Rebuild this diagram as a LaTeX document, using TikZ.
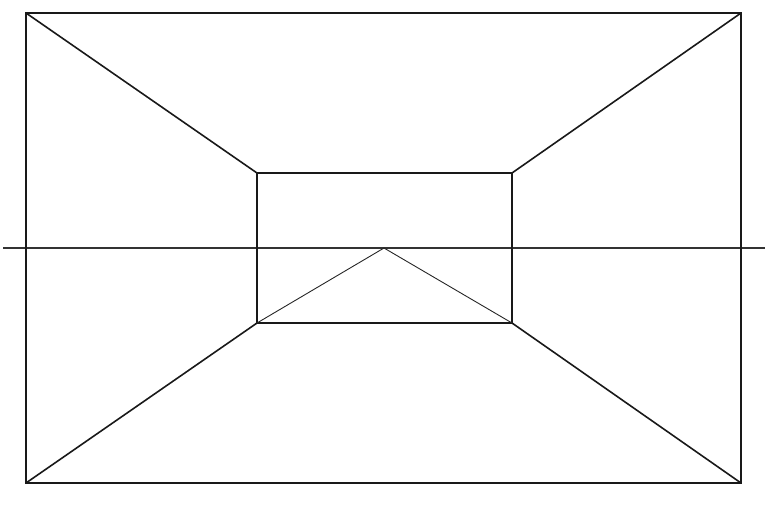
\documentclass[tikz,border=0pt]{standalone}
\begin{document}
\begin{tikzpicture}[x=1pt,y=-1pt,
  thick line/.style={line width=1.6pt, draw=black!90},
  mid line/.style={line width=1.2pt, draw=black!80},
  thin line/.style={line width=0.9pt, draw=black!85}]
\useasboundingbox (0,0) rectangle (768,512);
\coordinate (O1) at (26,13);
\coordinate (O2) at (741,13);
\coordinate (O3) at (741,483);
\coordinate (O4) at (26,483);
\coordinate (I1) at (257,173);
\coordinate (I2) at (512,173);
\coordinate (I3) at (512,323);
\coordinate (I4) at (257,323);
\coordinate (VP) at (384,248);
\coordinate (HL) at (3,248);
\coordinate (HR) at (765,248);
\draw[mid line] (HL) -- (HR);
\draw[thick line] (O1) -- (O2) -- (O3) -- (O4) -- cycle;
\draw[thick line] (I1) -- (I2) -- (I3) -- (I4) -- cycle;
\draw[thick line] (O1) -- (I1);
\draw[thick line] (O2) -- (I2);
\draw[thick line] (O3) -- (I3);
\draw[thick line] (O4) -- (I4);
\draw[thin line] (I4) -- (VP) -- (I3);
\end{tikzpicture}
\end{document}
